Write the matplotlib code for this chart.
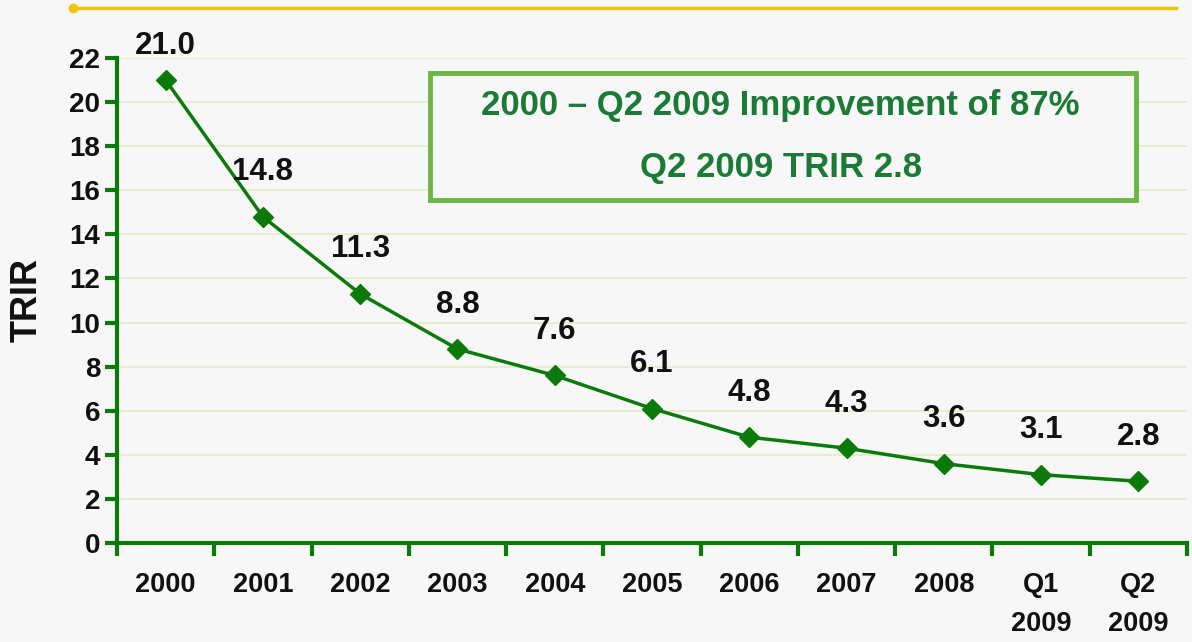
import matplotlib
matplotlib.use("Agg")
import matplotlib.pyplot as plt
from matplotlib.lines import Line2D
from matplotlib.patches import Rectangle

categories = ["2000", "2001", "2002", "2003", "2004", "2005", "2006", "2007", "2008", "Q1\n2009", "Q2\n2009"]
trir = [21.0, 14.8, 11.3, 8.8, 7.6, 6.1, 4.8, 4.3, 3.6, 3.1, 2.8]
yticks = list(range(0, 23, 2))
box_lines = ["2000 \u2013 Q2 2009 Improvement of 87%", "Q2 2009 TRIR 2.8"]

plt.rcParams['font.family'] = ['Liberation Sans', 'DejaVu Sans']
BG = "#f7f7f7"
GREEN = "#0b7a0b"

fig = plt.figure(figsize=(11.92, 6.42), dpi=100, facecolor=BG)
ax = fig.add_axes([117/1192, 1-543/642, (1187-117)/1192, (543-58)/642], facecolor=BG)

x = list(range(len(categories)))
ax.plot(x, trir, color=GREEN, lw=2.5, marker="D", ms=10, mfc=GREEN, mec=GREEN, zorder=3)

for i, v in enumerate(trir):
    off = 24.5 if i == 0 else 32
    ax.annotate(f"{v:.1f}", (i, v), xytext=(0, off), textcoords="offset points",
                ha="center", va="center", fontsize=22.5, fontweight="bold", color="#111111")

ax.set_xlim(-0.5, len(categories) - 0.5)
ax.set_ylim(0, 22)
ax.set_yticks(yticks)
ax.set_yticklabels([str(t) for t in yticks], fontsize=20, fontweight="bold", color="#111111")
ax.set_xticks(x)
ax.set_xticklabels(categories, fontsize=19.5, fontweight="bold", linespacing=1.65, va="top",
                   color="#111111")
ax.set_xticks([i - 0.5 for i in range(len(categories) + 1)], minor=True)
ax.tick_params(axis="x", which="major", length=0, pad=21)
ax.tick_params(axis="x", which="minor", length=9, width=3, color=GREEN, direction="out")
ax.tick_params(axis="y", length=9, width=3, color=GREEN, direction="out", pad=3)
ax.grid(axis="y", color="#e6edc8", lw=1.3)
ax.set_axisbelow(True)
for s in ["top", "right"]:
    ax.spines[s].set_visible(False)
for s in ["left", "bottom"]:
    ax.spines[s].set_color(GREEN)
    ax.spines[s].set_linewidth(3)
ax.set_ylabel("TRIR", fontsize=26, fontweight="bold", labelpad=18, color="#111111")

# annotation box
rect = Rectangle((430/1192, 1-200/642), (1136-430)/1192, (200-73)/642, transform=fig.transFigure,
                 facecolor=BG, edgecolor="#6cb544", lw=3.5, zorder=5)
fig.add_artist(rect)
fig.text(780/1192, 1-106/642, box_lines[0], ha="center", va="center", fontsize=25,
         fontweight="bold", color="#1a7a36", zorder=6)
fig.text(781/1192, 1-168/642, box_lines[1], ha="center", va="center", fontsize=25,
         fontweight="bold", color="#1a7a36", zorder=6)

# top yellow rule
fig.add_artist(Line2D([73/1192, 1176/1192], [1-8/642, 1-8/642], transform=fig.transFigure,
                      color="#f5c400", lw=2.5))
fig.add_artist(Line2D([73/1192], [1-8/642], transform=fig.transFigure, marker="o", ms=6,
                      color="#f5c400"))

fig.savefig("out.png", dpi=100, facecolor=BG)
